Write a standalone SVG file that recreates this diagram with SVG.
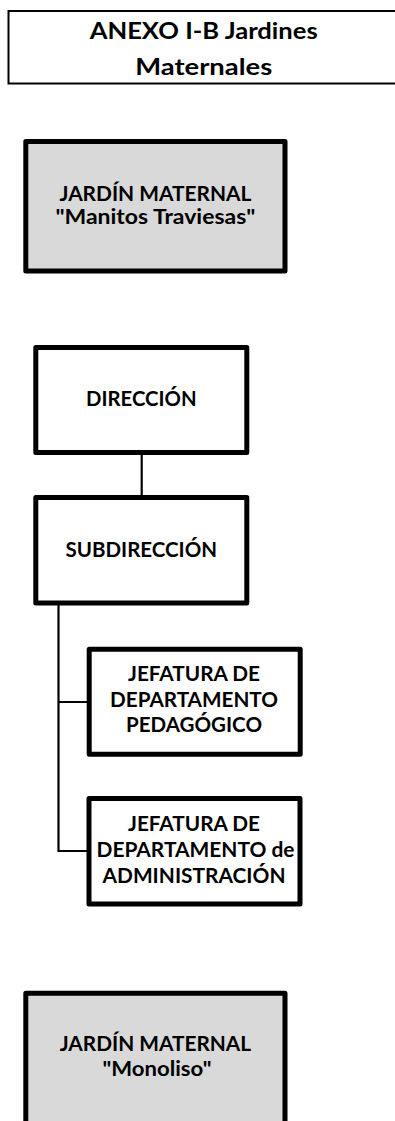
<svg xmlns="http://www.w3.org/2000/svg" width="395" height="1121" viewBox="0 0 395 1121">
<style>
text{font-family:Lato,"Open Sans","Liberation Sans",sans-serif;font-weight:700;fill:#000;text-anchor:middle}
.t{font-size:23px}
.n{font-size:20.5px}
.j{font-size:21px}
.box{fill:#fff;stroke:#000;stroke-width:5;stroke-linejoin:round}
.grey{fill:#d9d9d9}
.hdr{fill:#fff;stroke:#000;stroke-width:2}
.conn{fill:none;stroke:#000;stroke-width:2.2}
</style>
<rect width="395" height="1121" fill="#fff"/>
<g id="title">
<rect class="hdr" x="8.5" y="11" width="395" height="72.5"/>
<text class="t" x="203.7" y="38.5" textLength="228" lengthAdjust="spacingAndGlyphs">ANEXO I-B Jardines</text>
<text class="t" x="203.7" y="75" textLength="137" lengthAdjust="spacingAndGlyphs">Maternales</text>
</g>
<g id="connectors">
<path class="conn" d="M141.7,452 V497"/>
<path class="conn" d="M58.5,603 V851 H89 M58.5,702 H89"/>
</g>
<g id="jardin-manitos">
<rect class="box grey" x="25.8" y="141.5" width="259.2" height="129.5"/>
<text class="n" x="155.4" y="200.5" textLength="192" lengthAdjust="spacingAndGlyphs">JARDÍN MATERNAL</text>
<text class="n" x="155.4" y="224" textLength="200" lengthAdjust="spacingAndGlyphs">"Manitos Traviesas"</text>
</g>
<g id="direccion">
<rect class="box" x="35.8" y="347.5" width="211" height="105"/>
<text class="n" x="141.3" y="406" textLength="110.5" lengthAdjust="spacingAndGlyphs">DIRECCIÓN</text>
</g>
<g id="subdireccion">
<rect class="box" x="35.8" y="497.5" width="211" height="105.5"/>
<text class="n" x="141.3" y="557" textLength="151.5" lengthAdjust="spacingAndGlyphs">SUBDIRECCIÓN</text>
</g>
<g id="jefatura-pedagogico">
<rect class="box" x="89.2" y="649.2" width="211" height="105"/>
<text class="j" x="194" y="681" textLength="132" lengthAdjust="spacingAndGlyphs">JEFATURA DE</text>
<text class="j" x="194" y="706.5" textLength="168" lengthAdjust="spacingAndGlyphs">DEPARTAMENTO</text>
<text class="j" x="194" y="732" textLength="136" lengthAdjust="spacingAndGlyphs">PEDAGÓGICO</text>
</g>
<g id="jefatura-administracion">
<rect class="box" x="89" y="798.5" width="211" height="105.5"/>
<text class="j" x="194" y="831" textLength="132" lengthAdjust="spacingAndGlyphs">JEFATURA DE</text>
<text class="j" x="195.5" y="857" textLength="198" lengthAdjust="spacingAndGlyphs">DEPARTAMENTO de</text>
<text class="j" x="194" y="882.5" textLength="183" lengthAdjust="spacingAndGlyphs">ADMINISTRACIÓN</text>
</g>
<g id="jardin-monoliso">
<rect class="box grey" x="25.8" y="993.2" width="259.2" height="160"/>
<text class="n" x="155.4" y="1050.7" textLength="191.5" lengthAdjust="spacingAndGlyphs">JARDÍN MATERNAL</text>
<text class="n" x="157" y="1076" textLength="109" lengthAdjust="spacingAndGlyphs">"Monoliso"</text>
</g>
</svg>
